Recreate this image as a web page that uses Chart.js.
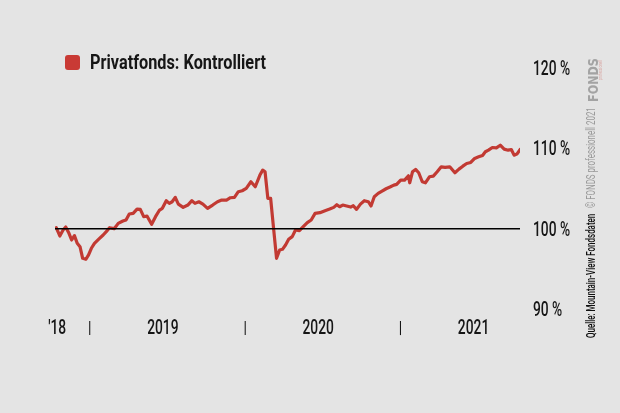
<!DOCTYPE html>
<html>
<head>
<meta charset="utf-8">
<script src="https://cdn.jsdelivr.net/npm/chart.js@4.4.1/dist/chart.umd.min.js"></script>
<style>
  html, body { margin: 0; padding: 0; background: #e4e4e4; }
  #wrap { position: relative; width: 620px; height: 413px; overflow: hidden; background: #e4e4e4; }
  canvas { position: absolute; left: 0; top: 0; }
  .rb { font-family: Roboto, "Liberation Sans", sans-serif; }
  #legendBox { position: absolute; left: 65px; top: 55px; width: 15px; height: 15px; background: #c93a35; border-radius: 3px; }
  #legendText { position: absolute; left: 90px; top: 52px; font-size: 20px; line-height: 20px; font-weight: 700; color: #161616; white-space: nowrap; transform-origin: left center; }
  .rot { position: absolute; white-space: nowrap; transform-origin: left top; }
</style>
</head>
<body>
<div id="wrap">
  <canvas id="c" width="620" height="413"></canvas>
  <div id="legendBox"></div>
  <div id="legendText" class="rb"></div>
  <div id="src" class="rot rb" data-len="124" style="left:585px; top:338px; font-size:12px; line-height:12px; font-weight:500; color:#111;">Quelle: Mountain-View Fondsdaten</div>
  <div id="copy" class="rot rb" data-len="101" style="left:585px; top:208px; font-size:12px; line-height:12px; color:#9a9a9a;">© FONDS professionell 2021</div>
  <div id="logo" class="rot" data-len="44" style="left:587px; top:102px; font-family:'DejaVu Sans',sans-serif; font-weight:900; font-size:14px; line-height:12px; color:#a3a3a3;">FONDS</div>
  <div id="logo2" class="rot rb" data-len="20" style="left:598px; top:80px; font-size:5px; line-height:5px; color:#d8a39f;">professionell</div>
</div>
<script>
// ---- data ----
const seriesName = "Privatfonds: Kontrolliert";
// dates as decimal years
const dates = [
  2018.784, 2018.807, 2018.828, 2018.845, 2018.866, 2018.883, 2018.901, 2018.919, 2018.937, 2018.954,
  2018.975, 2018.992, 2019.010, 2019.030, 2019.056, 2019.086, 2019.106, 2019.127, 2019.157, 2019.183,
  2019.213, 2019.233, 2019.254, 2019.279, 2019.304, 2019.325, 2019.347, 2019.368, 2019.398, 2019.423,
  2019.449, 2019.467, 2019.492, 2019.512, 2019.530, 2019.550, 2019.570, 2019.601, 2019.631, 2019.657,
  2019.677, 2019.702, 2019.728, 2019.758, 2019.791, 2019.822, 2019.849, 2019.880, 2019.905, 2019.931,
  2019.956, 2019.981, 2020.007, 2020.037, 2020.065, 2020.095, 2020.113, 2020.128, 2020.146, 2020.164,
  2020.184, 2020.202, 2020.222, 2020.240, 2020.260, 2020.280, 2020.303, 2020.324, 2020.349, 2020.374,
  2020.400, 2020.425, 2020.450, 2020.481, 2020.514, 2020.544, 2020.570, 2020.590, 2020.608, 2020.628,
  2020.653, 2020.679, 2020.696, 2020.717, 2020.742, 2020.767, 2020.793, 2020.810, 2020.831, 2020.856,
  2020.881, 2020.907, 2020.932, 2020.957, 2020.975, 2021.001, 2021.026, 2021.051, 2021.059, 2021.077,
  2021.097, 2021.117, 2021.140, 2021.160, 2021.186, 2021.211, 2021.236, 2021.262, 2021.287, 2021.317,
  2021.350, 2021.376, 2021.401, 2021.426, 2021.452, 2021.477, 2021.503, 2021.528, 2021.546, 2021.566,
  2021.591, 2021.617, 2021.642, 2021.667, 2021.693, 2021.713, 2021.731, 2021.749, 2021.769
];
// index values in percent
const values = [
  100.12, 99.09, 99.83, 100.21, 99.42, 98.59, 99.13, 98.18, 97.76, 96.31,
  96.19, 96.73, 97.56, 98.18, 98.67, 99.21, 99.63, 100.12, 100.00, 100.66,
  100.95, 101.08, 101.82, 101.90, 102.44, 102.40, 101.49, 101.57, 100.54, 101.49,
  102.32, 102.53, 103.48, 103.15, 103.35, 103.89, 103.06, 102.65, 102.94, 103.48,
  103.15, 103.35, 103.06, 102.53, 102.94, 103.35, 103.56, 103.56, 103.85, 103.89,
  104.60, 104.72, 105.01, 105.84, 105.22, 106.67, 107.29, 107.08, 103.77, 103.77,
  99.83, 96.31, 97.35, 97.43, 97.97, 98.67, 99.01, 99.83, 99.75, 100.25,
  100.75, 101.08, 101.90, 101.99, 102.24, 102.44, 102.65, 102.98, 102.73, 102.94,
  102.82, 102.69, 102.86, 102.40, 103.06, 103.48, 103.35, 102.82, 103.98, 104.39,
  104.68, 104.97, 105.18, 105.42, 105.51, 106.05, 106.05, 106.58, 105.71, 107.08,
  107.37, 106.96, 105.84, 105.71, 106.46, 106.54, 107.08, 107.70, 107.62, 107.70,
  106.96, 107.41, 107.78, 108.12, 108.24, 108.74, 108.94, 109.11, 109.57, 109.77,
  110.10, 110.06, 110.39, 109.90, 109.77, 109.85, 109.15, 109.28, 109.85
];
const baselineValue = 100;
const yTickValues = [90, 100, 110, 120];
const xTickValues = [2018.79, 2019.0, 2019.47, 2020.0, 2020.47, 2021.0, 2021.47];
const xTickLabels = ["'18", "|", "2019", "|", "2020", "|", "2021"];

// ---- text fitting (condensed look) ----
const legendEl = document.getElementById('legendText');
legendEl.textContent = seriesName;
legendEl.style.transform = 'scaleX(' + (176 / legendEl.offsetWidth) + ')';
['src', 'copy', 'logo', 'logo2'].forEach(id => {
  const el = document.getElementById(id);
  const s = (+el.dataset.len) / el.offsetWidth;
  el.style.transform = 'rotate(-90deg) scaleX(' + s + ')';
});

// ---- chart ----
const TICK_FONT = '500 20px Roboto, "Liberation Sans", sans-serif';
const SX = 0.69;

const condensedTicks = {
  id: 'condensedTicks',
  afterDraw(chart) {
    const ctx = chart.ctx;
    const xs = chart.scales.x, ys = chart.scales.y;
    ctx.save();
    ctx.fillStyle = '#161616';
    ctx.font = TICK_FONT;
    ctx.textBaseline = 'alphabetic';
    ys.ticks.forEach(t => {
      const py = ys.getPixelForValue(t.value);
      ctx.save();
      ctx.translate(ys.left + 13, py + 7);
      ctx.scale(SX, 1);
      ctx.textAlign = 'left';
      ctx.fillText(t.value + ' %', 0, 0);
      ctx.restore();
    });
    xs.ticks.forEach((t, i) => {
      const px = xs.getPixelForValue(t.value);
      const lbl = xTickLabels[i];
      ctx.save();
      if (lbl === '|') {
        ctx.translate(px, xs.top + 25 - 1);
        ctx.scale(SX, 0.85);
      } else {
        ctx.translate(px, xs.top + 25);
        ctx.scale(SX, 1);
      }
      ctx.textAlign = 'center';
      ctx.fillText(lbl, 0, 0);
      ctx.restore();
    });
    ctx.restore();
  }
};

const lineData = dates.map((d, i) => ({ x: d, y: values[i] }));
const baseData = [{ x: dates[0] - 0.008, y: baselineValue }, { x: dates[dates.length - 1], y: baselineValue }];

new Chart(document.getElementById('c'), {
  type: 'line',
  data: {
    datasets: [
      { label: 'Basis', data: baseData, borderColor: '#000', borderWidth: 1.5, pointRadius: 0, order: 0 },
      { label: seriesName, data: lineData, borderColor: '#c23a33', borderWidth: 3.2, pointRadius: 0,
        tension: 0, borderJoinStyle: 'round', borderCapStyle: 'round', order: 1 }
    ]
  },
  plugins: [condensedTicks],
  options: {
    responsive: false,
    animation: false,
    layout: { padding: { left: 55, top: 68, right: 0, bottom: 0 } },
    plugins: { legend: { display: false }, tooltip: { enabled: false } },
    scales: {
      x: {
        type: 'linear',
        min: dates[0] - 0.008,
        max: dates[dates.length - 1],
        grid: { display: false, drawTicks: false },
        border: { display: false },
        afterBuildTicks: (s) => { s.ticks = xTickValues.map(v => ({ value: v })); },
        afterFit: (s) => { s.height = 413 - 309; },
        ticks: { display: false, autoSkip: false }
      },
      y: {
        position: 'right',
        min: 90, max: 120,
        grid: { display: false, drawTicks: false },
        border: { display: false },
        afterBuildTicks: (s) => { s.ticks = yTickValues.map(v => ({ value: v })); },
        afterFit: (s) => { s.width = 100; },
        ticks: { display: false }
      }
    }
  }
});
</script>
</body>
</html>
